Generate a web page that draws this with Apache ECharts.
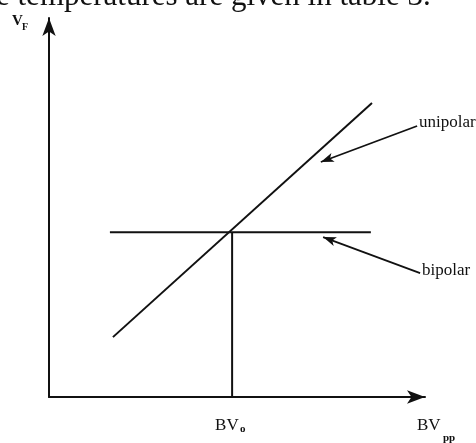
<html>
<head>
    <meta charset="UTF-8">
    <title>VF vs BVpp</title>
    <style>
        html, body { margin: 0; padding: 0; background: #fff; }
    </style>
    <script src="https://cdn.jsdelivr.net/npm/echarts@6/dist/echarts.min.js"></script>
</head>
<body>
<div id="main" style="width: 476px;height:443px;"></div>
<script>
    // data (abstract units, axis 0..10)
    var unipolarX = [1.70, 8.59];
    var unipolarY = [1.58, 7.76];
    var bipolarX = [1.62, 8.56];
    var bipolarY = [4.35, 4.35];
    var bv0X = [4.87, 4.87];
    var bv0Y = [0, 4.35];
    // annotation arrows: label end -> arrow tip
    var arrowFrom = [[9.79, 7.15], [9.87, 3.27]];
    var arrowTo = [[7.23, 6.20], [7.29, 4.22]];
    var curveNames = ['unipolar', 'bipolar'];
    var xLabelPos = [4.87, 10.0];
    var caption = 'e temperatures are given in table 3.';

    var serif = '"Liberation Serif", "DejaVu Serif", serif';
    var black = '#111';

    function seg(xs, ys) {
        return xs.map(function (x, i) { return [x, ys[i]]; });
    }
    function lineSeries(name, xs, ys) {
        return {
            name: name,
            type: 'line',
            data: seg(xs, ys),
            showSymbol: false,
            silent: true,
            lineStyle: { color: black, width: 2 }
        };
    }

    var myChart = echarts.init(document.getElementById('main'));
    var axisCommon = {
        type: 'value',
        min: 0,
        max: 10,
        axisLine: {
            show: true,
            onZero: false,
            symbol: ['none', 'arrow'],
            symbolSize: [10, 18],
            lineStyle: { color: black, width: 2 }
        },
        axisTick: { show: false },
        axisLabel: { show: false },
        splitLine: { show: false }
    };

    var option = {
        animation: false,
        backgroundColor: '#fff',
        grid: { left: 49, right: 51, top: 18, bottom: 46 },
        xAxis: axisCommon,
        yAxis: axisCommon,
        series: [
            lineSeries(curveNames[0], unipolarX, unipolarY),
            lineSeries(curveNames[1], bipolarX, bipolarY),
            lineSeries('BV0', bv0X, bv0Y),
            {
                type: 'line',
                data: [],
                markLine: {
                    silent: true,
                    animation: false,
                    symbol: ['none', 'arrow'],
                    symbolSize: [7, 13],
                    label: { show: false },
                    lineStyle: { color: black, width: 1.8, type: 'solid' },
                    data: arrowFrom.map(function (p, i) {
                        return [{ coord: p }, { coord: arrowTo[i] }];
                    })
                }
            }
        ]
    };
    myChart.setOption(option);

    // labels anchored to data positions
    var graphics = [];
    arrowFrom.forEach(function (p, i) {
        var px = myChart.convertToPixel({ gridIndex: 0 }, p);
        graphics.push({
            type: 'text', x: px[0] + 2, y: px[1] - 3,
            style: { text: curveNames[i], font: '17px ' + serif, fill: black, verticalAlign: 'middle' }
        });
    });
    var axisY = myChart.convertToPixel({ gridIndex: 0 }, [0, 0])[1];
    var p0 = myChart.convertToPixel({ gridIndex: 0 }, [xLabelPos[0], 0]);
    var p1 = myChart.convertToPixel({ gridIndex: 0 }, [xLabelPos[1], 0]);
    graphics.push({
        type: 'text', x: p0[0] - 17, y: axisY + 20,
        style: { text: 'BV', font: '17px ' + serif, fill: black }
    });
    graphics.push({
        type: 'text', x: p0[0] + 8, y: axisY + 27,
        style: { text: 'o', font: 'bold 11px ' + serif, fill: black }
    });
    graphics.push({
        type: 'text', x: p1[0] - 8, y: axisY + 20,
        style: { text: 'BV', font: '17px ' + serif, fill: black }
    });
    graphics.push({
        type: 'text', x: p1[0] + 18, y: axisY + 36,
        style: { text: 'pp', font: 'bold 11px ' + serif, fill: black }
    });
    graphics.push({
        type: 'text', x: 12, y: 14,
        style: { text: 'V', font: 'bold 15px ' + serif, fill: black }
    });
    graphics.push({
        type: 'text', x: 22, y: 22,
        style: { text: 'F', font: 'bold 10px ' + serif, fill: black }
    });
    graphics.push({
        type: 'text', x: -4, y: 12,
        style: { text: caption, font: '31px ' + serif, fill: black, verticalAlign: 'bottom' }
    });
    myChart.setOption({ graphic: graphics });
</script>
</body>
</html>
